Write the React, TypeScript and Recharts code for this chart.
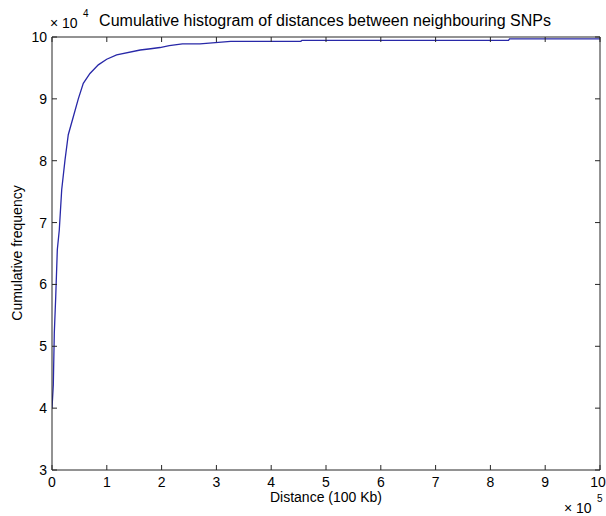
import { LineChart, Line, XAxis, YAxis } from "recharts";

// distance between neighbouring SNPs (raw), cumulative count (raw)
const distance = [
  0, 2400, 4200, 6800, 9700, 13300, 17700, 23700, 29700, 38900, 48000, 57100,
  69300, 84500, 99800, 118000, 161000, 180000, 197000, 214000, 238000, 270000,
  326000, 454000, 456000, 833000, 835000, 1000000,
];
const count = [
  40000, 43800, 52100, 58000, 65600, 68800, 75300, 80100, 84200, 87100, 90000,
  92500, 94100, 95500, 96400, 97100, 97900, 98100, 98300, 98600, 98900, 98900,
  99300, 99300, 99450, 99450, 99700, 99700,
];

const xTicks = [0, 100000, 200000, 300000, 400000, 500000, 600000, 700000, 800000, 900000, 1000000];
const yTicks = [30000, 40000, 50000, 60000, 70000, 80000, 90000, 100000];

const data = distance.map((d, i) => ({ distance: d, count: count[i] }));

const FONT = '"Liberation Sans", Arial, Helvetica, sans-serif';
const AXIS = "#262626";
const LINE = "#2828a8";
const TICK = 5;

const BottomTick = (props: any) => {
  const { x, y, payload } = props;
  // last label sits against the window edge, nudge it in
  const last = payload.value === xTicks[xTicks.length - 1];
  return (
    <g>
      <line x1={x} y1={y} x2={x} y2={y - TICK} stroke={AXIS} />
      <text
        x={last ? x - 2 : x}
        y={y + 17}
        textAnchor="middle"
        fontSize={14}
        fontFamily={FONT}
        fill="#000"
      >
        {payload.value / 1e5}
      </text>
    </g>
  );
};

const TopTick = (props: any) => {
  const { x, y } = props;
  return <line x1={x} y1={y} x2={x} y2={y + TICK} stroke={AXIS} />;
};

const LeftTick = (props: any) => {
  const { x, y, payload } = props;
  return (
    <g>
      <line x1={x} y1={y} x2={x + TICK} y2={y} stroke={AXIS} />
      <text x={x - 5} y={y + 5} textAnchor="end" fontSize={14} fontFamily={FONT} fill="#000">
        {payload.value / 1e4}
      </text>
    </g>
  );
};

const RightTick = (props: any) => {
  const { x, y } = props;
  return <line x1={x} y1={y} x2={x - TICK} y2={y} stroke={AXIS} />;
};

const App = () => {
  return (
    <div style={{ position: "absolute", left: 0, top: 0, width: 606, height: 516, background: "#fff" }}>
      <LineChart width={606} height={516} data={data} margin={{ top: 0, right: 0, bottom: 0, left: 0 }}>
        <XAxis
          xAxisId="b"
          orientation="bottom"
          dataKey="distance"
          type="number"
          domain={[0, 1000000]}
          ticks={xTicks}
          interval={0}
          height={46}
          tickSize={0}
          tickMargin={0}
          tickLine={false}
          axisLine={{ stroke: AXIS }}
          tick={<BottomTick />}
          allowDataOverflow
        />
        <XAxis
          xAxisId="t"
          orientation="top"
          dataKey="distance"
          type="number"
          domain={[0, 1000000]}
          ticks={xTicks}
          interval={0}
          height={37}
          tickSize={0}
          tickMargin={0}
          tickLine={false}
          axisLine={{ stroke: AXIS }}
          tick={<TopTick />}
          allowDataOverflow
        />
        <YAxis
          yAxisId="l"
          orientation="left"
          type="number"
          domain={[30000, 100000]}
          ticks={yTicks}
          interval={0}
          width={52}
          tickSize={0}
          tickMargin={0}
          tickLine={false}
          axisLine={{ stroke: AXIS }}
          tick={<LeftTick />}
          allowDataOverflow
        />
        <YAxis
          yAxisId="r"
          orientation="right"
          type="number"
          domain={[30000, 100000]}
          ticks={yTicks}
          interval={0}
          width={6}
          tickSize={0}
          tickMargin={0}
          tickLine={false}
          axisLine={{ stroke: AXIS }}
          tick={<RightTick />}
          allowDataOverflow
        />
        <Line
          xAxisId="b"
          yAxisId="l"
          type="linear"
          dataKey="count"
          stroke={LINE}
          strokeWidth={1.3}
          dot={false}
          activeDot={false}
          isAnimationActive={false}
        />
        {/* invisible twin so the top/right frame axes get a domain */}
        <Line
          xAxisId="t"
          yAxisId="r"
          type="linear"
          dataKey="count"
          stroke="none"
          dot={false}
          activeDot={false}
          isAnimationActive={false}
        />
      </LineChart>
      <svg
        width={606}
        height={516}
        style={{ position: "absolute", left: 0, top: 0, pointerEvents: "none" }}
        fontFamily={FONT}
      >
        <text x={325} y={26} textAnchor="middle" fontSize={16} fill="#000">
          Cumulative histogram of distances between neighbouring SNPs
        </text>
        <text x={50} y={28} fontSize={14} fill="#000">
          × 10
        </text>
        <text x={83} y={17} fontSize={10} fill="#000">
          4
        </text>
        <text x={326} y={502} textAnchor="middle" fontSize={14} fill="#000">
          Distance (100 Kb)
        </text>
        <text x={564} y={513} fontSize={14} fill="#000">
          × 10
        </text>
        <text x={597} y={502} fontSize={10} fill="#000">
          5
        </text>
        <text
          x={22}
          y={253}
          textAnchor="middle"
          fontSize={14}
          fill="#000"
          transform="rotate(-90 22 253)"
        >
          Cumulative frequency
        </text>
      </svg>
    </div>
  );
};

export default App;
